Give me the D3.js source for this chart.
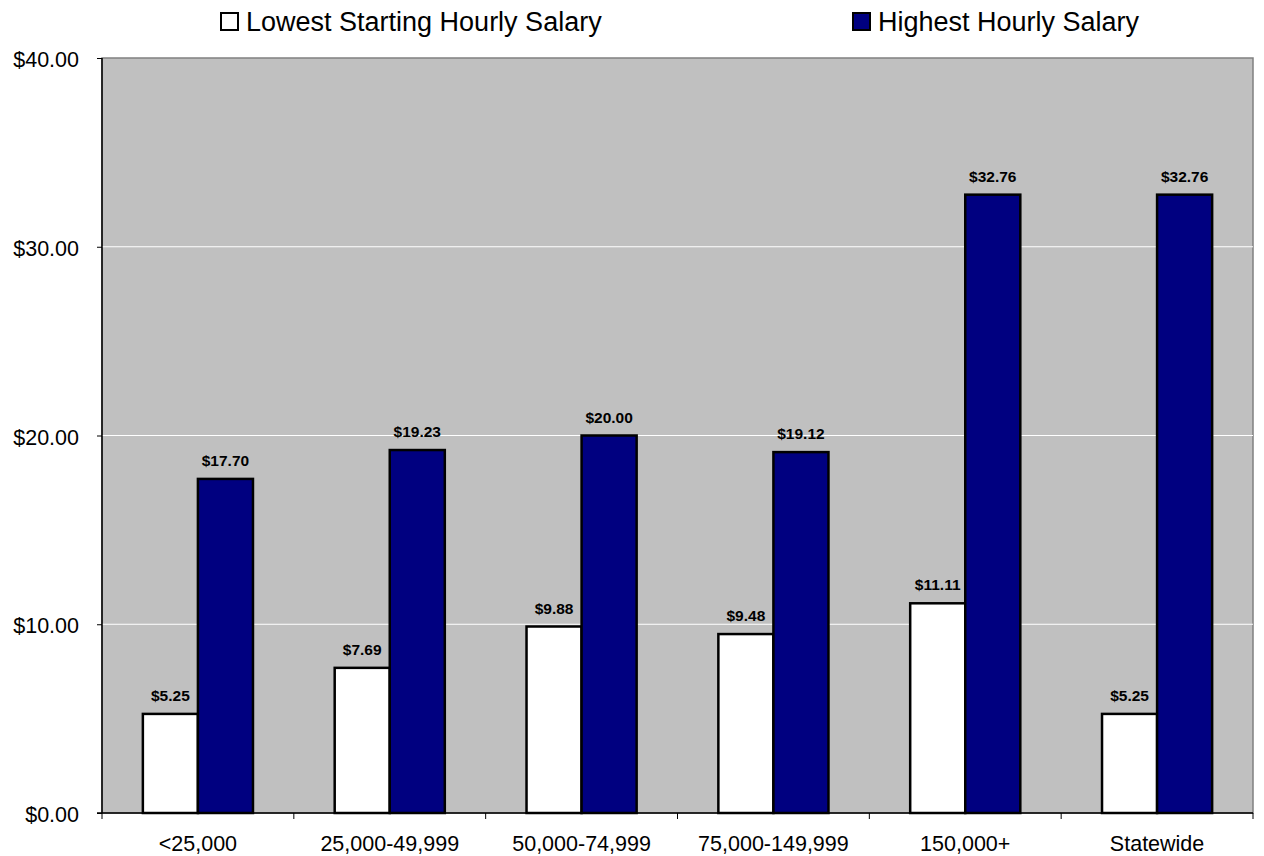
<!DOCTYPE html>
<html><head><meta charset="utf-8">
<script src="https://cdn.jsdelivr.net/npm/d3@7"></script>
<style>body{margin:0;background:#fff;font-family:Arial,"Liberation Sans",sans-serif}</style>
</head><body>
<svg id="c" width="1264" height="856"></svg>
<script>
const categories = ["<25,000","25,000-49,999","50,000-74,999","75,000-149,999","150,000+","Statewide"];
const seriesNames = ["Lowest Starting Hourly Salary","Highest Hourly Salary"];
const lowest = [5.25,7.69,9.88,9.48,11.11,5.25];
const highest = [17.70,19.23,20.00,19.12,32.76,32.76];
const yTicks = [0,10,20,30,40];
const colors = ["#FFFFFF","#000080"];

const svg = d3.select("#c");
const L=102, R=1253, T=58, B=813;
const FF = "Arial,'Liberation Sans',sans-serif";
const x0 = d3.scaleBand().domain(categories).range([L,R]).padding(0);
const groupW = x0.bandwidth()*0.574;
const x1 = d3.scaleBand().domain(seriesNames).range([0,groupW]).padding(0);
const y = d3.scaleLinear().domain([0,40]).range([B,T]);

svg.append("rect").attr("x",L).attr("y",T).attr("width",R-L).attr("height",B-T)
  .attr("fill","#C0C0C0").attr("stroke","#808080").attr("stroke-width",1.5);

svg.append("g").selectAll("line").data(yTicks.filter(d=>d>0&&d<40)).join("line")
  .attr("x1",L).attr("x2",R).attr("y1",d=>y(d)).attr("y2",d=>y(d))
  .attr("stroke","#fff").attr("stroke-width",1);

const data = categories.map((c,i)=>({c, vals:[lowest[i],highest[i]]}));
const g = svg.append("g").selectAll("g").data(data).join("g")
  .attr("transform",d=>`translate(${x0(d.c)+(x0.bandwidth()-groupW)/2},0)`);
g.selectAll("rect").data(d=>d.vals.map((v,j)=>({v,s:seriesNames[j],j}))).join("rect")
  .attr("x",d=>x1(d.s)).attr("width",x1.bandwidth())
  .attr("y",d=>y(d.v)).attr("height",d=>B-y(d.v))
  .attr("fill",d=>colors[d.j]).attr("stroke","#000").attr("stroke-width",2.5);
g.selectAll("text").data(d=>d.vals.map((v,j)=>({v,s:seriesNames[j],j}))).join("text")
  .attr("x",d=>x1(d.s)+x1.bandwidth()/2).attr("y",d=>y(d.v)-13)
  .attr("text-anchor","middle").attr("font-size",15.5).attr("font-weight","bold").attr("font-family",FF)
  .text(d=>"$"+d.v.toFixed(2));

// axes
const yAxis = d3.axisLeft(y).tickValues(yTicks).tickSize(5).tickFormat(d=>"$"+d.toFixed(2));
const ya = svg.append("g").attr("transform",`translate(${L},0)`).call(yAxis);
ya.select(".domain").attr("stroke","#000").attr("stroke-width",1.5).attr("d",`M0,${T}V${B}`);
ya.selectAll(".tick line").attr("stroke","#000");
ya.selectAll("text").attr("font-size",21.5).attr("font-family",FF).attr("fill","#000").attr("x",-23).attr("dy","0.4em");

const xa = svg.append("g").attr("transform",`translate(0,${B})`);
xa.append("line").attr("x1",L-5).attr("x2",R).attr("stroke","#000").attr("stroke-width",1.5);
xa.selectAll("line.t").data(categories.map(c=>x0(c)).concat([R])).join("line").attr("class","t")
  .attr("x1",d=>d).attr("x2",d=>d).attr("y1",0).attr("y2",6).attr("stroke","#000");
xa.selectAll("text").data(categories).join("text")
  .attr("x",d=>x0(d)+x0.bandwidth()/2).attr("y",38).attr("text-anchor","middle")
  .attr("font-size",21.5).attr("font-family",FF).text(d=>d);

// legend
const leg = [{x:221,name:seriesNames[0],c:colors[0]},{x:853,name:seriesNames[1],c:colors[1]}];
const lg = svg.append("g").selectAll("g").data(leg).join("g");
lg.append("rect").attr("x",d=>d.x).attr("y",13).attr("width",17).attr("height",17)
  .attr("fill",d=>d.c).attr("stroke","#000").attr("stroke-width",2);
lg.append("text").attr("x",d=>d.x+25).attr("y",30.5).attr("font-size",27).attr("font-family",FF).text(d=>d.name);
</script>
</body></html>
